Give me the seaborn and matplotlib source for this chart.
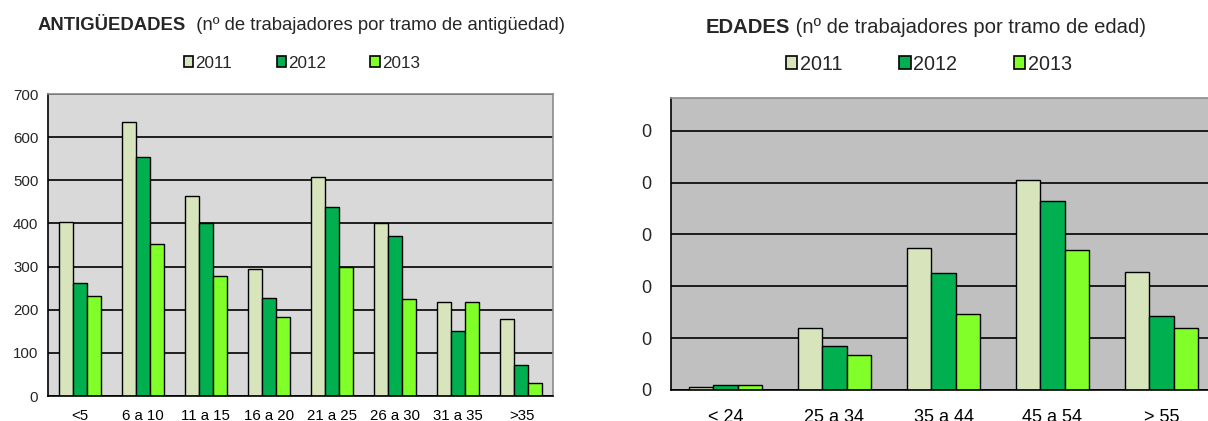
import matplotlib
matplotlib.use("Agg")
import matplotlib.pyplot as plt
import seaborn as sns
import pandas as pd
from matplotlib.patches import Patch
from matplotlib.ticker import FixedLocator, FuncFormatter

# --- data -------------------------------------------------------------
years = ["2011", "2012", "2013"]

antig_cats = ["<5", "6 a 10", "11 a 15", "16 a 20", "21 a 25", "26 a 30", "31 a 35", ">35"]
antig_2011 = [404, 634, 464, 294, 508, 402, 219, 179]
antig_2012 = [261, 555, 402, 228, 437, 372, 150, 72]
antig_2013 = [232, 352, 277, 182, 300, 225, 219, 29]

edad_cats = ["< 24", "25 a 34", "35 a 44", "45 a 54", "> 55"]
edad_2011 = [18, 357, 819, 1218, 684]
edad_2012 = [30, 255, 675, 1092, 429]
edad_2013 = [30, 201, 438, 810, 357]

colors = ["#D8E4BC", "#00B050", "#80FF28"]


def long_form(cats, series):
    rows = []
    for year, vals in zip(years, series):
        for c, v in zip(cats, vals):
            rows.append({"tramo": c, "year": year, "n": v})
    return pd.DataFrame(rows)


df_antig = long_form(antig_cats, [antig_2011, antig_2012, antig_2013])
df_edad = long_form(edad_cats, [edad_2011, edad_2012, edad_2013])

sns.set_style("white")
plt.rcParams["font.family"] = ["Liberation Sans", "DejaVu Sans"]

W, H = 1208, 421
fig = plt.figure(figsize=(W / 100, H / 100), dpi=100)


def px_axes(x0, y0, x1, y1):
    return fig.add_axes([x0 / W, 1 - y1 / H, (x1 - x0) / W, (y1 - y0) / H])


def style_axes(ax, n, face, ymax, step, fs, xpad, ypad, ticklen):
    ax.set_facecolor(face)
    ax.set_xlim(-0.5, n - 0.5)
    ax.set_ylim(0, ymax)
    ax.yaxis.set_major_locator(FixedLocator(list(range(0, ymax + 1, step))))
    ax.yaxis.grid(True, color="black", linewidth=1.2)
    ax.xaxis.grid(False)
    ax.set_axisbelow(True)
    for s in ("left", "bottom"):
        ax.spines[s].set_color("black")
        ax.spines[s].set_linewidth(1.2)
    for s in ("top", "right"):
        ax.spines[s].set_color("#8C8C8C")
        ax.spines[s].set_linewidth(1.2)
    ax.xaxis.set_minor_locator(FixedLocator([i - 0.5 for i in range(n + 1)]))
    ax.tick_params(axis="x", which="major", length=0, labelsize=fs, pad=xpad, colors="black")
    ax.tick_params(axis="x", which="minor", length=ticklen, width=1, color="black", direction="out")
    ax.tick_params(axis="y", which="major", length=ticklen, width=1, color="black", direction="out",
                   labelsize=fs, pad=ypad)
    ax.set_xlabel("")
    ax.set_ylabel("")


def draw_title(x_left, y_base, bold, rest, fs):
    renderer = fig.canvas.get_renderer()
    tb = fig.text(x_left / W, 1 - y_base / H, bold, fontsize=fs, fontweight="bold",
                  va="baseline", ha="left")
    wb = tb.get_window_extent(renderer).width
    fig.text((x_left + wb) / W, 1 - y_base / H, rest, fontsize=fs, va="baseline", ha="left")


def draw_legend(ax, y, x_first, spacing, fs, hsize):
    handles = [Patch(facecolor=c, edgecolor="black", linewidth=1.2) for c in colors]
    ax.legend(handles, years, loc="center left", bbox_to_anchor=(x_first / W, 1 - y / H),
              bbox_transform=fig.transFigure, ncol=3, frameon=False, fontsize=fs,
              handlelength=hsize, handleheight=hsize, handletextpad=0.12,
              columnspacing=spacing, borderaxespad=0, borderpad=0)


# --- left chart: antigüedad ---------------------------------------------
ax1 = px_axes(48, 94, 553, 396)
sns.barplot(data=df_antig, x="tramo", y="n", hue="year", order=antig_cats, hue_order=years,
            palette=colors, saturation=1, width=0.667, edgecolor="black", linewidth=1,
            legend=False, ax=ax1)
style_axes(ax1, len(antig_cats), "#D9D9D9", 700, 100, 10.8, 9, 3, 4)
draw_title(38, 29.5, "ANTIGÜEDADES", "  (nº de trabajadores por tramo de antigüedad)", 13.3)
draw_legend(ax1, 63, 184, 2.6, 12.3, 0.55)

# --- right chart: edad ---------------------------------------------------
ax2 = px_axes(671, 98, 1216, 390)
sns.barplot(data=df_edad, x="tramo", y="n", hue="year", order=edad_cats, hue_order=years,
            palette=colors, saturation=1, width=0.667, edgecolor="black", linewidth=1,
            legend=False, ax=ax2)
style_axes(ax2, len(edad_cats), "#C0C0C0", 1690, 300, 13, 14, 9, 5)
ax2.yaxis.set_major_locator(FixedLocator([0, 300, 600, 900, 1200, 1500]))
ax2.yaxis.set_major_formatter(FuncFormatter(lambda v, p: f"{v:.0f}"[-1]))
draw_title(706, 33, "EDADES", " (nº de trabajadores por tramo de edad)", 14.6)
draw_legend(ax2, 64, 786, 2.9, 14.2, 0.57)

fig.savefig("out.png", dpi=100)
